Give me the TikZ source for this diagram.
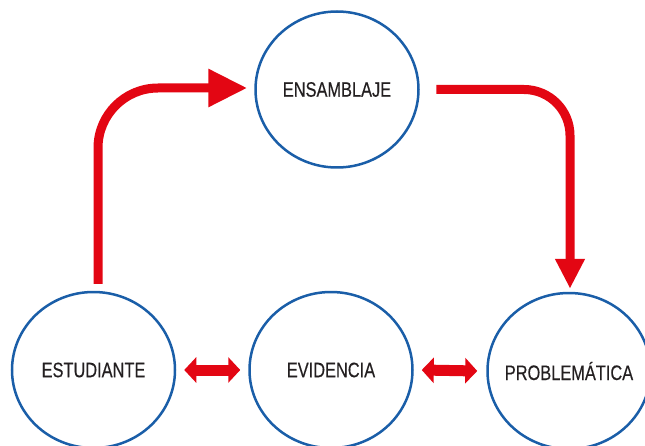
\documentclass[tikz,border=0pt]{standalone}
\usepackage{fontspec}
\setmainfont[FakeStretch=0.78,FakeBold=0.3]{Liberation Sans}
\usetikzlibrary{shapes.geometric,arrows.meta}
\definecolor{azul}{RGB}{26,94,168}
\definecolor{rojo}{RGB}{227,6,19}
\definecolor{texto}{RGB}{35,31,32}

\begin{document}
\begin{tikzpicture}[x=1pt,y=1pt,
        etapa/.style={ellipse,draw=azul,line width=2.5pt,minimum width=163pt,minimum height=156pt,inner xsep=-40pt,inner ysep=0pt,text=texto,font=\fontsize{21}{21}\selectfont},
        flecha/.style={draw=rojo,line width=9pt},
        doble/.style={draw=rojo,line width=11pt,{Triangle[length=12pt,width=25pt]}-{Triangle[length=12pt,width=25pt]}}]

            \useasboundingbox (0,0) rectangle (645,445);

            \node[etapa] (ens) at (337,355.5) {ENSAMBLAJE};
            \node[etapa] (est) at (93.5,75) {ESTUDIANTE};
            \node[etapa] (evi) at (331,75) {EVIDENCIA};
            \node[etapa] (prob) at (569,74) {PROBLEMÁTICA};

            \draw[flecha,rounded corners=60pt,-{Triangle[length=39pt,width=36pt]}] ([xshift=4.5pt,yshift=7pt]est.north) |- ([xshift=-7pt,yshift=1.5pt]ens.west);
            \draw[flecha,rounded corners=46pt,-{Triangle[length=30pt,width=28pt]}] ([xshift=16.5pt]ens.east) -| ([xshift=1pt,yshift=3pt]prob.north);

            \draw[doble] ([xshift=8pt]est.east) -- ([xshift=-8pt]evi.west);
            \draw[doble] ([xshift=8pt]evi.east) -- ([xshift=-9pt]prob.west);

        \end{tikzpicture}
\end{document}
